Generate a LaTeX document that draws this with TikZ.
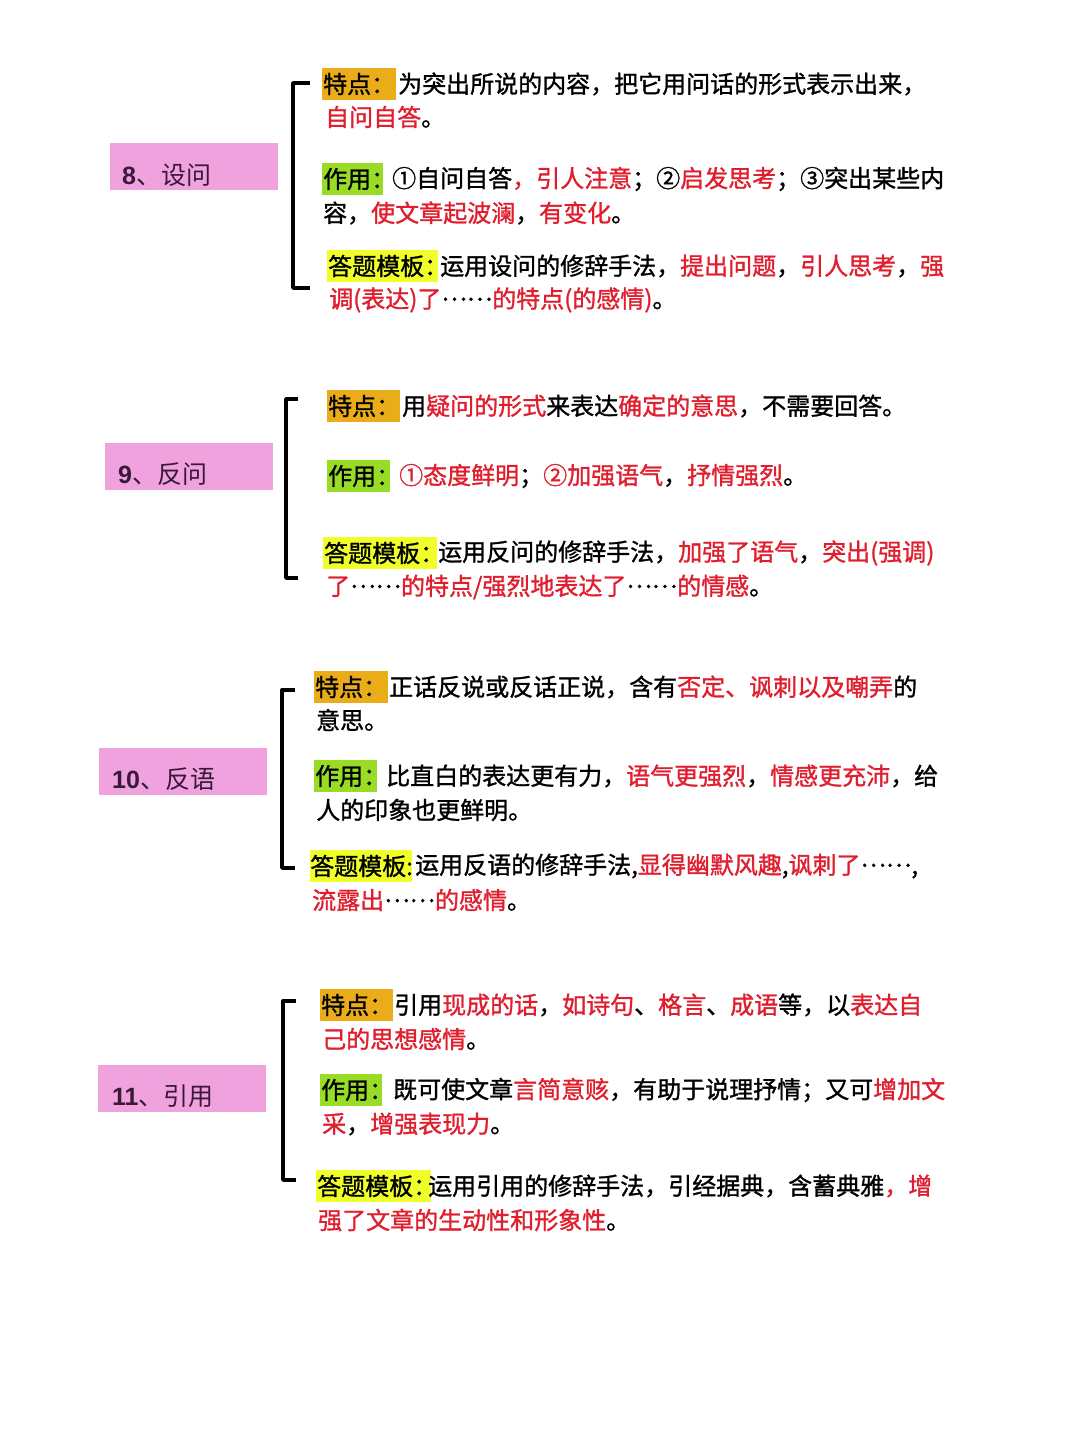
\documentclass[tikz,border=0pt]{standalone}
\usepackage{fontspec}
\newfontfamily\cjk[FakeBold=1.2]{Noto Sans CJK SC}
\newfontfamily\cjklight{Noto Sans CJK SC}
\newfontfamily\numfont{Liberation Sans}
\definecolor{hlred}{RGB}{224,30,46}
\definecolor{tagorange}{RGB}{234,172,24}
\definecolor{taggreen}{RGB}{152,220,38}
\definecolor{tagyellow}{RGB}{240,255,42}
\definecolor{catpink}{RGB}{240,162,222}
\definecolor{catink}{RGB}{58,24,58}
\newcommand\rd[1]{\textcolor{hlred}{#1}}
\newcommand\myell{\raisebox{0.3em}{……}}
\tikzset{
  txt/.style={anchor=west, inner sep=0pt, font=\cjk\fontsize{24}{28}\selectfont, text=black},
  tagbase/.style={inner sep=0pt, minimum height=32pt, anchor=north west},
  tagO/.style={tagbase, fill=tagorange},
  tagG/.style={tagbase, fill=taggreen},
  tagY/.style={tagbase, fill=tagyellow},
  cat/.style={fill=catpink, inner sep=0pt, minimum height=47pt, minimum width=168pt, anchor=north west},
  cattext/.style={anchor=west, inner sep=0pt, font=\cjklight\fontsize{25}{30}\selectfont, text=catink},
  brk/.style={line width=3.4pt, line join=round, line cap=butt}
}
\begin{document}
\begin{tikzpicture}[x=1pt,y=-1pt]
\fill[white] (0,0) rectangle (1080,1440);
\useasboundingbox (0,0) rectangle (1080,1440);

% ---------------- 8 设问 ----------------
\node[cat] (c8) at (110,143) {};
\node[cattext] (c8t) at (122,175) {{\numfont\bfseries 8}、设问};
\draw[brk] (310,83) -- (293,83) -- (293,288) -- (310,288);
\node[tagO, minimum width=74pt] (t8a) at (322,68) {};
\node[txt] (l8a) at (323,84) {特点：};
\node[txt] (l8b) at (398,84) {为突出所说的内容，把它用问话的形式表示出来，};
\node[txt] (l8c) at (325,117) {\rd{自问自答}。};
\node[tagG, minimum width=61pt] (t8b) at (322,163) {};
\node[txt] (l8d) at (323,179) {作用：};
\node[txt] (l8e) at (392,179) {①自问自答\rd{，引人注意}；②\rd{启发思考}；③突出某些内};
\node[txt] (l8f) at (323,213) {容，\rd{使文章起波澜}，\rd{有变化}。};
\node[tagY, minimum width=111pt] (t8c) at (327,250) {};
\node[txt] (l8g) at (328,266) {答题模板：};
\node[txt] (l8h) at (440,266) {运用设问的修辞手法，\rd{提出问题}，\rd{引人思考}，\rd{强}};
\node[txt] (l8i) at (329,300) {\rd{调(表达)了}\myell\rd{的特点(的感情)}。};

% ---------------- 9 反问 ----------------
\node[cat] (c9) at (105,443) {};
\node[cattext] (c9t) at (118,474) {{\numfont\bfseries 9}、反问};
\draw[brk] (298,399) -- (286,399) -- (286,578) -- (298,578);
\node[tagO, minimum width=73pt] (t9a) at (327,390) {};
\node[txt] (l9a) at (328,406) {特点：};
\node[txt] (l9b) at (402,406) {用\rd{疑问的形式}来表达\rd{确定的意思}，不需要回答。};
\node[tagG, minimum width=63pt] (t9b) at (327,460) {};
\node[txt] (l9c) at (328,476) {作用：};
\node[txt] (l9d) at (399,476) {\rd{①态度鲜明}；\rd{②加强语气}，\rd{抒情强烈}。};
\node[tagY, minimum width=114pt] (t9c) at (323,537) {};
\node[txt] (l9e) at (324,553) {答题模板：};
\node[txt] (l9f) at (438,553) {运用反问的修辞手法，\rd{加强了语气}，\rd{突出(强调)}};
\node[txt] (l9g) at (326,587) {\rd{了}\myell\rd{的特点/强烈地表达了}\myell\rd{的情感}。};

% ---------------- 10 反语 ----------------
\node[cat] (c10) at (99,748) {};
\node[cattext] (c10t) at (112,779) {{\numfont\bfseries 10}、反语};
\draw[brk] (295,690) -- (282,690) -- (282,868) -- (295,868);
\node[tagO, minimum width=74pt] (t10a) at (314,671) {};
\node[txt] (l10a) at (315,687) {特点：};
\node[txt] (l10b) at (389,687) {正话反说或反话正说，含有\rd{否定、讽刺以及嘲弄}的};
\node[txt] (l10c) at (316,720) {意思。};
\node[tagG, minimum width=63pt] (t10b) at (314,760) {};
\node[txt] (l10d) at (315,776) {作用：};
\node[txt] (l10e) at (386,776) {比直白的表达更有力，\rd{语气更强烈}，\rd{情感更充沛}，给};
\node[txt] (l10f) at (316,810) {人的印象也更鲜明。};
\node[tagY, minimum width=102pt] (t10c) at (310,850) {};
\node[txt] (l10g) at (310,866) {答题模板:};
\node[txt] (l10h) at (415,866) {运用反语的修辞手法,\rd{显得幽默风趣},\rd{讽刺了}\myell,};
\node[txt] (l10i) at (312,900) {\rd{流露出}\myell\rd{的感情}。};

% ---------------- 11 引用 ----------------
\node[cat] (c11) at (98,1065) {};
\node[cattext] (c11t) at (112,1096) {{\numfont\bfseries 11}、引用};
\draw[brk] (296,1001) -- (283,1001) -- (283,1180) -- (296,1180);
\node[tagO, minimum width=73pt] (t11a) at (320,989) {};
\node[txt] (l11a) at (321,1005) {特点：};
\node[txt] (l11b) at (394,1005) {引用\rd{现成的话}，\rd{如诗句}、\rd{格言}、\rd{成语}等，以\rd{表达自}};
\node[txt] (l11c) at (322,1039) {\rd{己的思想感情}。};
\node[tagG, minimum width=62pt] (t11b) at (320,1074) {};
\node[txt] (l11d) at (321,1090) {作用：};
\node[txt] (l11e) at (393,1090) {既可使文章\rd{言简意赅}，有助于说理抒情；又可\rd{增加文}};
\node[txt] (l11f) at (322,1124) {\rd{采}，\rd{增强表现力}。};
\node[tagY, minimum width=115pt] (t11c) at (316,1170) {};
\node[txt] (l11g) at (317,1186) {答题模板：};
\node[txt] (l11h) at (428,1186) {运用引用的修辞手法，引经据典，含蓄典雅\rd{，增}};
\node[txt] (l11i) at (318,1220) {\rd{强了文章的生动性和形象性}。};
\end{tikzpicture}
\end{document}
